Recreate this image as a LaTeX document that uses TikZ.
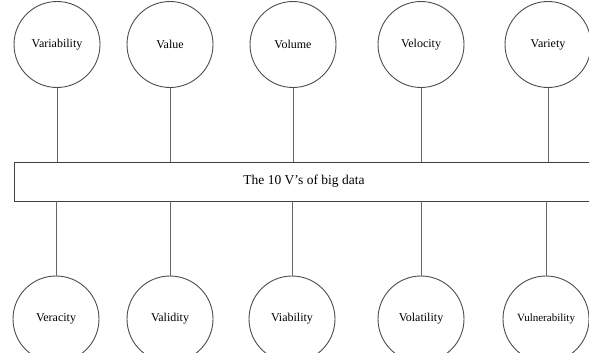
\documentclass[tikz,border=0pt]{standalone}
\usepackage{fontspec}
\setmainfont{Liberation Serif}
\begin{document}
\begin{tikzpicture}[x=1pt,y=-1pt,
  vcircle/.style={circle,draw=black!70,line width=0.9pt,minimum size=86pt,inner sep=0pt,font=\fontsize{12}{14}\selectfont},
  vbox/.style={rectangle,draw=black!75,line width=0.9pt,minimum width=580pt,minimum height=39pt,inner sep=0pt,font=\fontsize{13.5}{16}\selectfont},
  vlink/.style={draw=black!60,line width=0.9pt}]
\useasboundingbox (0,0) rectangle (589,353);
\node[vbox] (box) at (304,181.5) {The 10 V’s of big data};
\node[vcircle] (t1) at (57,44.5) {Variability};
\node[vcircle] (t2) at (170,44.5) {Value};
\node[vcircle] (t3) at (293,44.5) {Volume};
\node[vcircle] (t4) at (421,44.5) {Velocity};
\node[vcircle] (t5) at (548,44.5) {Variety};
\node[vcircle] (b1) at (56,319) {Veracity};
\node[vcircle] (b2) at (170,319) {Validity};
\node[vcircle] (b3) at (292,319) {Viability};
\node[vcircle] (b4) at (421,319) {Volatility};
\node[vcircle,font=\fontsize{11}{13}\selectfont] (b5) at (546,319) {Vulnerability};
\foreach \n in {t1,t2,t3,t4,t5} {\draw[vlink] (\n.south) -- (\n.south |- box.north);}
\foreach \n in {b1,b2,b3,b4,b5} {\draw[vlink] (\n.north) -- (\n.north |- box.south);}
\end{tikzpicture}
\end{document}
